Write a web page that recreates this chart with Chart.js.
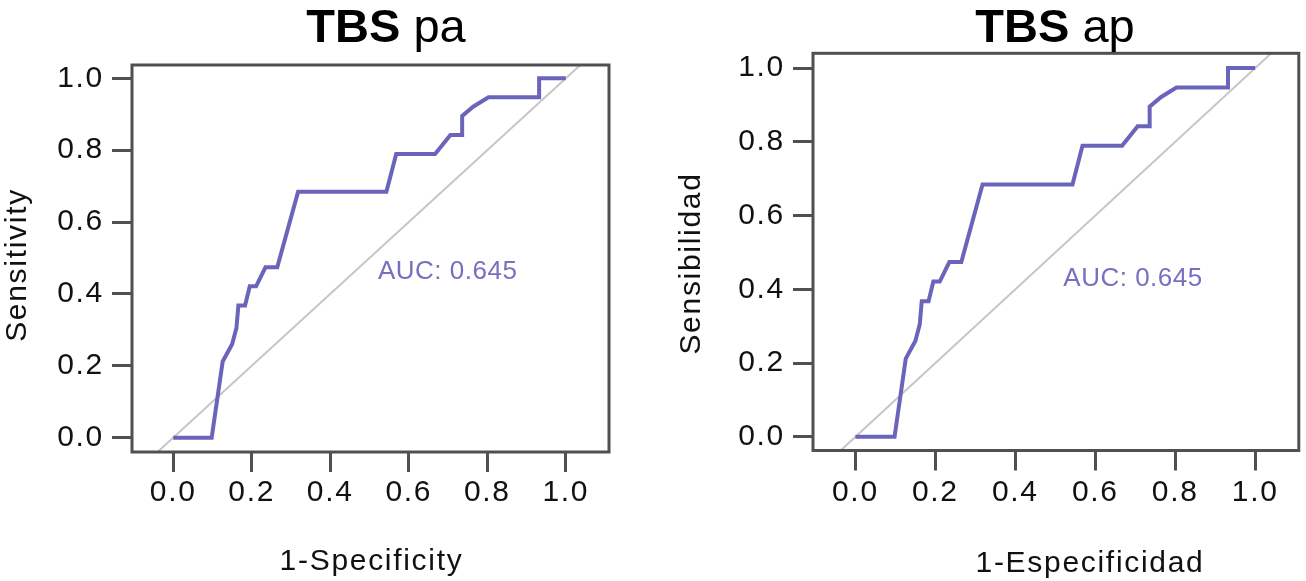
<!DOCTYPE html>
<html><head><meta charset="utf-8">
<script src="https://cdn.jsdelivr.net/npm/chart.js@4.4.1/dist/chart.umd.min.js"></script>
<style>
html,body{margin:0;padding:0;background:#fff;}
#wrap{position:relative;width:1306px;height:581px;overflow:hidden;background:#fff;}
.panel{position:absolute;top:0;width:653px;height:581px;}
</style></head><body>
<div id="wrap">
<div class="panel" style="left:0"><canvas id="c1" width="653" height="581"></canvas></div>
<div class="panel" style="left:653px"><canvas id="c2" width="653" height="581"></canvas></div>
</div>
<script>
// ---- data (both panels show the same ROC curve) ----
const fprValues = [0, 0.098, 0.126, 0.150, 0.161, 0.166, 0.183, 0.195, 0.211, 0.235, 0.265, 0.318, 0.543, 0.568, 0.667, 0.706, 0.736, 0.736, 0.764, 0.803, 0.932, 0.932, 1.0];
const tprValues = [0, 0, 0.212, 0.260, 0.305, 0.368, 0.368, 0.421, 0.421, 0.474, 0.474, 0.684, 0.684, 0.789, 0.789, 0.842, 0.842, 0.895, 0.921, 0.947, 0.947, 1.0, 1.0];
const tickValues = [0, 0.2, 0.4, 0.6, 0.8, 1.0];
const tickLabels = ['0.0', '0.2', '0.4', '0.6', '0.8', '1.0'];
const aucLabel = 'AUC: 0.645';
const titleBold = ['TBS', 'TBS'];
const titleRest = ['pa', 'ap'];
const xTitles = ['1-Specificity', '1-Especificidad'];
const yTitles = ['Sensitivity', 'Sensibilidad'];

// ---- layout / style ----
const FONT = "'Liberation Sans', Arial, Helvetica, sans-serif";
const LINE = '#6a64ba';
const AUC_COLOR = '#7570c0';
const FRAME = '#505050';
const layouts = [
  {id:'c1', xMin:-0.105, xMax:1.11, yMin:-0.040, yMax:1.037, left:132, top:65, right:609, bottom:452,
   titleCx:386, titleBase:42, xTitleCx:371.5, xTitleBase:570, yTitleX:26, yTitleCy:265, aucX:0.5215, aucY:0.4416, xPad:3},
  {id:'c2', xMin:-0.106, xMax:1.109, yMin:-0.037, yMax:1.040, left:160, top:53.3, right:645.8, bottom:450.5,
   titleCx:402, titleBase:42, xTitleCx:437, xTitleBase:571.5, yTitleX:47, yTitleCy:263.5, aucX:0.52, aucY:0.409, xPad:4}
];

const textPlugin = {
  id: 'panelText',
  beforeDraw(chart) { chart.ctx.letterSpacing = '1.7px'; },
  afterDraw(chart, args, o) {
    const ctx = chart.ctx, a = chart.chartArea;
    ctx.save();
    // frame
    ctx.strokeStyle = FRAME; ctx.lineWidth = 3;
    ctx.strokeRect(a.left, a.top, a.right - a.left, a.bottom - a.top);
    // AUC text
    ctx.letterSpacing = '0.5px';
    ctx.fillStyle = AUC_COLOR;
    ctx.font = '26px ' + FONT;
    ctx.textAlign = 'left'; ctx.textBaseline = 'alphabetic';
    ctx.fillText(aucLabel, chart.scales.x.getPixelForValue(o.aucX), chart.scales.y.getPixelForValue(o.aucY));
    // main title
    ctx.letterSpacing = '0px';
    ctx.fillStyle = '#000';
    ctx.font = 'bold 47px ' + FONT;
    const wb = ctx.measureText(o.bold + ' ').width;
    ctx.font = '47px ' + FONT;
    const wr = ctx.measureText(o.rest).width;
    const x0 = o.titleCx - (wb + wr) / 2;
    ctx.font = 'bold 47px ' + FONT;
    ctx.fillText(o.bold + ' ', x0, o.titleBase);
    ctx.font = '47px ' + FONT;
    ctx.fillText(o.rest, x0 + wb, o.titleBase);
    // axis titles
    ctx.letterSpacing = '1.7px';
    ctx.font = '30px ' + FONT;
    ctx.fillStyle = '#111';
    ctx.textAlign = 'center';
    ctx.fillText(o.xTitle, o.xTitleCx, o.xTitleBase);
    ctx.translate(o.yTitleX, o.yTitleCy);
    ctx.rotate(-Math.PI / 2);
    ctx.fillText(o.yTitle, 0, 0);
    ctx.restore();
  }
};

layouts.forEach((L, k) => {
  const W = 653, H = 581;
  const scaleCommon = {
    type: 'linear',
    afterBuildTicks: s => { s.ticks = tickValues.map(v => ({value: v})); },
    grid: {display: true, drawOnChartArea: false, drawTicks: true, tickLength: 20, tickWidth: 3, tickColor: FRAME},
    border: {display: false},
  };
  new Chart(document.getElementById(L.id), {
    type: 'scatter',
    data: {
      datasets: [
        {data: fprValues.map((x, i) => ({x: x, y: tprValues[i]})), showLine: true, borderColor: LINE, borderWidth: 4,
         pointRadius: 0, tension: 0, fill: false, clip: 0},
        {data: [{x: L.xMin, y: L.xMin}, {x: L.xMax, y: L.xMax}], showLine: true, borderColor: '#c6c6c6', borderWidth: 2,
         pointRadius: 0, fill: false, clip: 0}
      ]
    },
    options: {
      responsive: false, animation: false, devicePixelRatio: 1,
      layout: {padding: {left: 0, top: L.top, right: W - L.right, bottom: 0}},
      plugins: {
        legend: {display: false}, tooltip: {enabled: false},
        panelText: {bold: titleBold[k], rest: titleRest[k], xTitle: xTitles[k], yTitle: yTitles[k],
          titleCx: L.titleCx, titleBase: L.titleBase, xTitleCx: L.xTitleCx, xTitleBase: L.xTitleBase,
          yTitleX: L.yTitleX, yTitleCy: L.yTitleCy, aucX: L.aucX, aucY: L.aucY}
      },
      scales: {
        x: Object.assign({}, scaleCommon, {
          position: 'bottom', min: L.xMin, max: L.xMax,
          afterFit: s => { s.height = H - L.bottom; },
          ticks: {padding: L.xPad, color: '#111', font: {size: 30, family: FONT}, maxRotation: 0, autoSkip: false,
                  callback: (v, i) => tickLabels[i]}
        }),
        y: Object.assign({}, scaleCommon, {
          position: 'left', min: L.yMin, max: L.yMax,
          afterFit: s => { s.width = L.left; },
          ticks: {padding: 8, color: '#111', font: {size: 30, family: FONT}, autoSkip: false,
                  callback: (v, i) => tickLabels[i]}
        })
      }
    },
    plugins: [textPlugin]
  });
});
</script>
</body></html>
